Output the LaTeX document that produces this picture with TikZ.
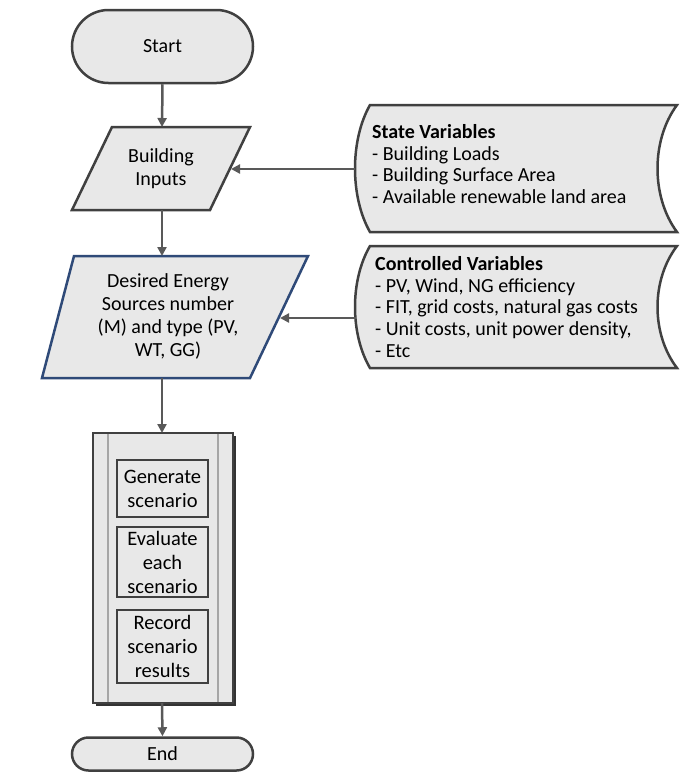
\documentclass[tikz,border=0pt]{standalone}
\usepackage{fontspec}
\setmainfont{Carlito}
\usetikzlibrary{arrows.meta,shapes.misc}
\definecolor{edge}{HTML}{404040}
\definecolor{boxfill}{HTML}{E8E8E8}
\definecolor{arrowc}{HTML}{595959}
\definecolor{blueedge}{HTML}{2F4A78}
\definecolor{rail}{HTML}{A6A6A6}
\begin{document}
\begin{tikzpicture}[x=1pt,y=-1pt,
  shapebox/.style={fill=boxfill, draw=edge, line width=2.5pt},
  txt/.style={font=\fontsize{20}{23}\selectfont, align=center, inner sep=0pt},
  ltxt/.style={font=\fontsize{20}{21.7}\selectfont, align=left, inner sep=0pt, anchor=west},
  term/.style={shapebox, rounded rectangle, minimum width=181pt, inner sep=0pt, font=\fontsize{20}{23}\selectfont},
  inbox/.style={shapebox, line width=2.2pt, minimum width=91pt, inner sep=0pt, align=center, font=\fontsize{20.5}{24}\selectfont},
  flow/.style={draw=arrowc, line width=2.5pt, -{Triangle[length=9pt,width=9pt]}}]
\useasboundingbox (0,0) rectangle (681,774);

% Start
\node[term, minimum height=73pt] (start) at (162.5,46.5) {Start};

% Building Inputs
\draw[shapebox] (112,127) -- (250,127) -- (210,210) -- (72,210) -- cycle;
\node[txt] (bi) at (161,169) {Building\\Inputs};
\coordinate (biT) at (162,127);
\coordinate (biB) at (162,210);
\coordinate (biR) at (231,169);

% State variables (stored data)
\draw[shapebox] (370,105) -- (677,105) .. controls (651,140) and (651,197) .. (677,232)
  -- (370,232) .. controls (350,197) and (350,140) .. (370,105) -- cycle;
\coordinate (svL) at (355,169);
\node[ltxt] (sv) at (372,164) {\textbf{State Variables}\\- Building Loads\\- Building Surface Area\\- Available renewable land area};

% Desired energy
\draw[shapebox, draw=blueedge] (74,256) -- (308,256) -- (250,378) -- (42,378) -- cycle;
\node[txt] (de) at (168,316) {Desired Energy\\Sources number\\(M) and type (PV,\\WT, GG)};
\coordinate (deT) at (162,256);
\coordinate (deB) at (162,378);
\coordinate (deR) at (280,318);

% Controlled variables
\draw[shapebox] (370,246) -- (677,246) .. controls (651,280) and (651,334) .. (677,368)
  -- (370,368) .. controls (350,334) and (350,280) .. (370,246) -- cycle;
\coordinate (cvL) at (356,318);
\node[ltxt] (cv) at (375,307) {\textbf{Controlled Variables}\\- PV, Wind, NG efficiency\\- FIT, grid costs, natural gas costs\\- Unit costs, unit power density,\\- Etc};

% Loop box
\fill[black!80] (96,436) rectangle (236,706);
\draw[shapebox, line width=2pt] (93,433) rectangle (233,703);
\draw[rail, line width=2.5pt] (108,434) -- (108,702);
\draw[rail, line width=2.5pt] (218,434) -- (218,702);
\coordinate (lpT) at (162,433);
\coordinate (lpB) at (162,703);
\node[inbox, minimum height=57pt] (gen) at (162.5,488.5) {Generate\\scenario};
\node[inbox, minimum height=70pt] (eva) at (162.5,562) {Evaluate\\each\\scenario};
\node[inbox, minimum height=73pt] (rec) at (162.5,646.5) {Record\\scenario\\results};

% End
\node[term, minimum height=33pt] (end) at (162.5,754) {End};

% connectors
\draw[flow] (start.south) -- (biT);
\draw[flow] (biB) -- (deT);
\draw[flow] (deB) -- (lpT);
\draw[flow] (lpB) -- (end.north);
\draw[flow] (svL) -- (biR);
\draw[flow] (cvL) -- (deR);
\end{tikzpicture}
\end{document}
